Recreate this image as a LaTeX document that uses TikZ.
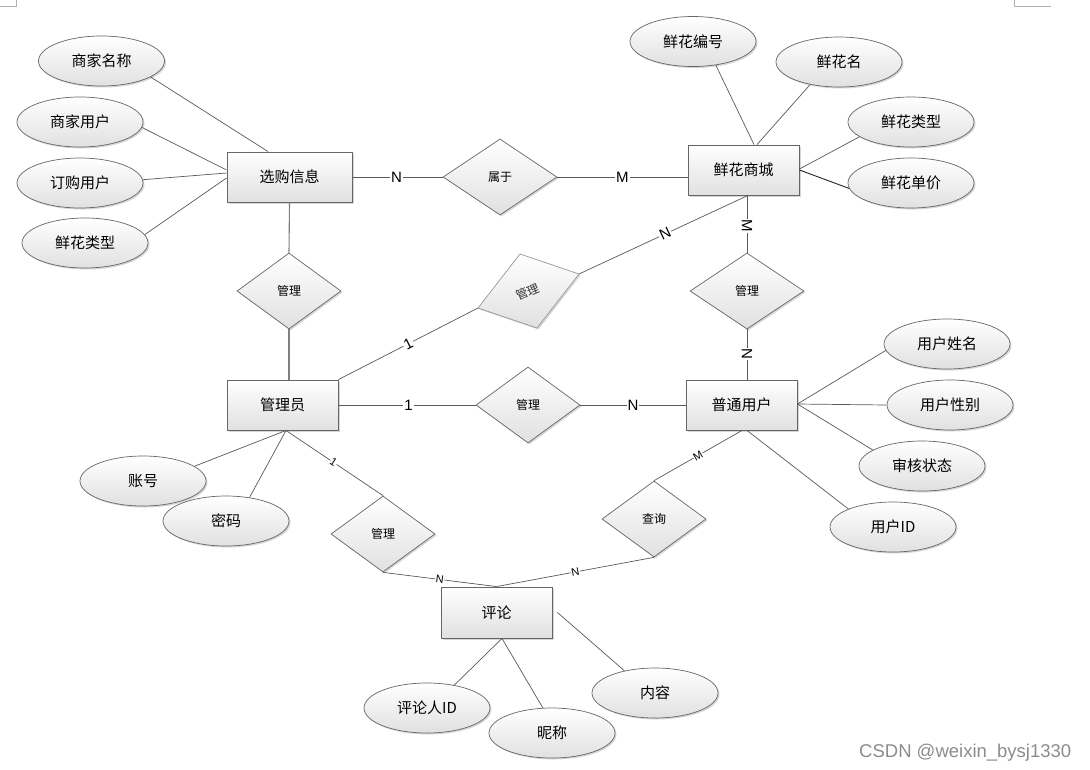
\documentclass[tikz,border=0pt]{standalone}
\usepackage{fontspec}
\setmainfont{Noto Sans CJK SC}
\newfontfamily\lab{Liberation Sans}
\usetikzlibrary{shapes.geometric,shadows}
\begin{document}
\begin{tikzpicture}[x=1pt,y=-1pt,
  shad/.style={drop shadow={shadow xshift=1.5pt,shadow yshift=-1.5pt,fill=black!45,opacity=.35}},
  ent/.style={rectangle, draw=black!60, line width=0.9pt, top color=white, bottom color=black!12,
    minimum width=111pt, minimum height=50pt, inner sep=0pt, font=\fontsize{15}{15}\selectfont, shad},
  att/.style={ellipse, draw=black!60, line width=0.7pt, top color=white, bottom color=black!12,
    minimum width=126pt, minimum height=50pt, inner sep=0pt, font=\fontsize{15}{15}\selectfont, shad},
  rel/.style={diamond, draw=black!60, line width=0.7pt, top color=white, bottom color=black!12,
    minimum width=104pt, minimum height=76pt, inner sep=0pt, font=\fontsize{12}{12}\selectfont, shad},
  con/.style={draw=black!65, line width=0.7pt},
  card/.style={fill=white, inner sep=1pt, font=\lab\fontsize{15}{15}\selectfont},
  cards/.style={fill=white, inner sep=0.5pt, font=\lab\fontsize{11}{11}\selectfont},
]
\fill[white] (0,0) rectangle (1090,769);
\useasboundingbox (0,0) rectangle (1090,769);

% page corner marks
\draw[black!30, line width=0.8pt] (16,0) -- (16,6) -- (0,6);
\draw[black!30, line width=0.8pt] (1014,0) -- (1014,6) -- (1051,6);

% entities
\node[ent, minimum width=125pt] (xg) at (289.5,177) {选购信息};
\node[ent] (xhsc) at (743.5,170) {鲜花商城};
\node[ent] (gly) at (282.5,405) {管理员};
\node[ent] (ptyh) at (741.5,405) {普通用户};
\node[ent, minimum height=51pt] (pl) at (496.5,612.5) {评论};

% relations
\node[rel, minimum width=114pt] (sy) at (500,177) {属于};
\node[rel] (gl1) at (289,291) {管理};
\node[rel, minimum width=114pt] (gl2) at (747,291) {管理};
\node[rel] (gl4) at (528,405) {管理};
\node[rel] (gl5) at (383,534) {管理};
\node[rel] (cx) at (654,519) {查询};
% tilted relation
\path[draw=black!40, line width=0.7pt, top color=white, bottom color=black!12, shad]
  (520,254) -- (579,274) -- (537,328) -- (478,308) -- cycle;
\coordinate (gl3r) at (579,274);
\coordinate (gl3l) at (478,308);
\node[rotate=23, font=\fontsize{12}{12}\selectfont, text=black!80] (gl3) at (528,292) {管理};

% attributes
\node[att] (a1) at (101.5,61) {商家名称};
\node[att] (a2) at (80,122) {商家用户};
\node[att] (a3) at (80,183) {订购用户};
\node[att] (a4) at (85,243) {鲜花类型};
\node[att] (b1) at (693,41.5) {鲜花编号};
\node[att] (b2) at (839,62) {鲜花名};
\node[att] (b3) at (911,122) {鲜花类型};
\node[att] (b4) at (911,183) {鲜花单价};
\node[att] (c1) at (947,344) {用户姓名};
\node[att] (c2) at (950,405) {用户性别};
\node[att] (c3) at (922,466) {审核状态};
\node[att] (c4) at (893,527) {用户ID};
\node[att] (d1) at (143,481) {账号};
\node[att] (d2) at (226,521) {密码};
\node[att] (e1) at (427,708) {评论人ID};
\node[att] (e2) at (552,733) {昵称};
\node[att] (e3) at (655,693) {内容};

% attribute connectors
\draw[con] (a1.-18) -- ([xshift=-21.5pt]xg.north);
\draw[con] (a2.-5) -- ([yshift=7pt]xg.west);
\draw[con] (a3.3) -- ([yshift=4pt]xg.west);
\draw[con] (a4.8) -- ([yshift=-1pt]xg.west);
\draw[con] (b1.-46) -- ([xshift=10.5pt]xhsc.north);
\draw[con] (b2.-142) -- ([xshift=13.5pt]xhsc.north);
\draw[con] (b3.196) -- ([yshift=1pt]xhsc.east);
\draw[draw=black!85, line width=0.9pt] (b4.185) -- (xhsc.east);
\draw[con] (c1.186) -- ([yshift=1pt]ptyh.east);
\draw[con] (c2.west) -- ([yshift=1pt]ptyh.east);
\draw[con] (c3.162) -- ([yshift=1pt]ptyh.east);
\draw[con] (c4.158) -- ([xshift=5.5pt]ptyh.south);
\draw[con] (d1.16) -- ([xshift=3.5pt]gly.south);
\draw[con] (d2.45) -- ([xshift=3.5pt]gly.south);
\draw[con] (e1.40) -- ([xshift=5.5pt]pl.south);
\draw[con] (e2.110) -- ([xshift=5.5pt]pl.south);
\draw[con] (e3.144) -- ([xshift=5pt]pl.east);

% relationship connectors
\draw[draw=black!50, line width=1.1pt] (xg.south) -- (gl1.north);
\draw[draw=black!50, line width=1.1pt] (gl1.south) -- ([xshift=6.5pt]gly.north);
\draw[con] (xg.east) -- node[card, pos=0.49] {N} (sy.west);
\draw[con] (sy.east) -- node[card, pos=0.5] {M} ([yshift=-7pt]xhsc.west);
\draw[con] ([xshift=4.5pt]xhsc.south) -- node[card, pos=0.49, rotate=25] {N} (gl3r);
\draw[con] ([xshift=3.5pt]xhsc.south) -- node[card, pos=0.53, rotate=-90] {M} (gl2.north);
\draw[con] (gl2.south) -- node[card, pos=0.49, rotate=-90] {N} ([xshift=5.5pt]ptyh.south |- ptyh.north);
\draw[con] (gl3l) -- node[card, pos=0.5, rotate=27] {1} (gly.north east);
\draw[con] (gly.east) -- node[card, pos=0.51] {1} (gl4.west);
\draw[con] (gl4.east) -- node[card, pos=0.5] {N} (ptyh.west);
\draw[con] ([xshift=3.5pt]gly.south) -- node[cards, pos=0.49, rotate=-34] {1} (gl5.north);
\draw[con] (gl5.south) -- node[cards, pos=0.5, rotate=-7.5] {N} (pl.north);
\draw[con] (cx.south) -- node[cards, pos=0.5, rotate=10.7] {N} (pl.north);
\draw[con] (cx.north) -- node[cards, pos=0.5, rotate=30] {M} ([xshift=0.5pt]ptyh.south);

% watermark
\node[anchor=base west, inner sep=0pt, font=\lab\fontsize{18.5}{18.5}\selectfont, text=black!45] (wm) at (859,757) {CSDN @weixin\_bysj1330};
\end{tikzpicture}
\end{document}
